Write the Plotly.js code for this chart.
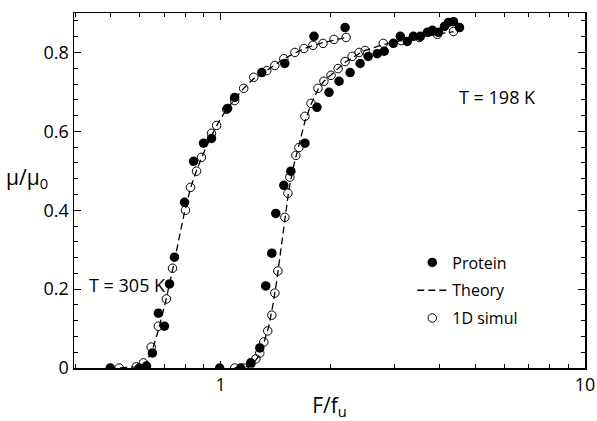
<!DOCTYPE html>
<html>
<head>
<meta charset="utf-8">
<script src="https://cdn.plot.ly/plotly-3.0.1.min.js"></script>
<style>html,body{margin:0;padding:0;background:#fff;}#chart{width:597px;height:421px;}</style>
</head>
<body>
<div id="chart"></div>
<script>
// T = 305 K
const protein305X = [0.498,0.598,0.626,0.650,0.675,0.701,0.724,0.747,0.796,0.843,0.898,0.944,1.045,1.093,1.297,1.500,1.804,2.196];
const protein305Y = [0,0,0.005,0.038,0.139,0.106,0.213,0.281,0.420,0.524,0.570,0.582,0.658,0.686,0.749,0.772,0.841,0.863];
const simul305X = [0.527,0.587,0.614,0.645,0.675,0.710,0.738,0.801,0.827,0.859,0.886,0.944,0.975,1.039,1.093,1.157,1.233,1.339,1.409,1.491,1.599,1.693,1.792,1.910,2.048,2.210];
const simul305Y = [0,0.003,0.013,0.053,0.106,0.175,0.253,0.400,0.458,0.499,0.534,0.595,0.615,0.656,0.678,0.709,0.737,0.754,0.767,0.784,0.800,0.810,0.818,0.823,0.833,0.838];
const theory305X = [0.530,0.587,0.621,0.650,0.675,0.705,0.738,0.766,0.796,0.827,0.859,0.892,0.939,0.987,1.039,1.093,1.157,1.233,1.339,1.491,1.693,1.910,2.210];
const theory305Y = [0,0.003,0.010,0.046,0.096,0.165,0.248,0.324,0.395,0.456,0.501,0.539,0.585,0.623,0.656,0.681,0.709,0.734,0.754,0.784,0.810,0.825,0.838];
// T = 198 K
const protein198X = [0.994,1.135,1.210,1.281,1.330,1.382,1.417,1.491,1.559,1.704,1.838,1.984,2.114,2.267,2.415,2.541,2.691,2.812,2.978,3.113,3.253,3.381,3.534,3.694,3.813,3.961,4.115,4.220,4.356,4.525];
const protein198Y = [0,0,0.013,0.051,0.208,0.291,0.392,0.463,0.499,0.570,0.661,0.699,0.727,0.749,0.772,0.790,0.797,0.803,0.823,0.841,0.828,0.841,0.841,0.851,0.856,0.851,0.866,0.876,0.878,0.863];
const simul198X = [1.093,1.157,1.210,1.249,1.281,1.314,1.347,1.382,1.409,1.436,1.501,1.530,1.549,1.609,1.640,1.704,1.770,1.850,1.921,2.009,2.101,2.196,2.296,2.400,2.493,2.795,3.133,3.512,3.936,4.356];
const simul198Y = [0,0,0.010,0.023,0.038,0.066,0.094,0.134,0.190,0.246,0.382,0.443,0.484,0.539,0.559,0.638,0.671,0.709,0.727,0.742,0.759,0.777,0.790,0.800,0.805,0.823,0.830,0.838,0.846,0.853];
const theory198X = [1.093,1.172,1.225,1.273,1.314,1.356,1.391,1.427,1.463,1.501,1.539,1.589,1.640,1.704,1.770,1.850,1.921,2.009,2.101,2.196,2.296,2.400,2.493,2.795,3.133,3.512,3.936,4.356];
const theory198Y = [0,0.003,0.010,0.030,0.063,0.106,0.159,0.223,0.299,0.375,0.451,0.515,0.562,0.625,0.668,0.706,0.727,0.742,0.759,0.775,0.787,0.797,0.805,0.820,0.830,0.838,0.846,0.853];

const xTickVals = [1, 10];
const xTickText = ['1', '10'];
const xMinorVals = [0.4,0.5,0.6,0.7,0.8,0.9,2,3,4,5,6,7,8,9];
const yTickVals = [0, 0.2, 0.4, 0.6, 0.8];
const yTickText = ['0', '0.2', '0.4', '0.6', '0.8'];

const FONT = 'Open Sans, Noto Sans, sans-serif';
const theoryLine = {color:'#000', width:1.3, dash:'7px,4px'};
const filledMarker = {symbol:'circle', size:9.5, color:'#000'};
const openMarker = {symbol:'circle-open', size:8.5, color:'#000', line:{width:1}};

const traces = [
  {x:theory305X, y:theory305Y, mode:'lines', line:theoryLine, name:'Theory', legendgroup:'t', legendrank:2, showlegend:true},
  {x:theory198X, y:theory198Y, mode:'lines', line:theoryLine, name:'Theory', legendgroup:'t', showlegend:false},
  {x:simul305X, y:simul305Y, mode:'markers', marker:openMarker, name:'1D simul', legendgroup:'s', legendrank:3, showlegend:true},
  {x:simul198X, y:simul198Y, mode:'markers', marker:openMarker, name:'1D simul', legendgroup:'s', showlegend:false},
  {x:protein305X, y:protein305Y, mode:'markers', marker:filledMarker, name:'Protein', legendgroup:'p', legendrank:1, showlegend:true},
  {x:protein198X, y:protein198Y, mode:'markers', marker:filledMarker, name:'Protein', legendgroup:'p', showlegend:false}
];

const layout = {
  width:597, height:421,
  margin:{l:74, r:12, t:13, b:53},
  paper_bgcolor:'#fff', plot_bgcolor:'#fff',
  font:{family:FONT, color:'#000', size:17},
  showlegend:true,
  legend:{x:0.662, y:0.345, xanchor:'left', yanchor:'top', bgcolor:'rgba(0,0,0,0)',
          font:{family:FONT, size:16, color:'#000'}, traceorder:'grouped', tracegroupgap:4, itemwidth:30},
  xaxis:{type:'log', range:[Math.log10(0.396), 1], tickmode:'array', tickvals:xTickVals, ticktext:xTickText,
         ticks:'inside', ticklen:7, tickwidth:1, tickcolor:'#000', showline:true, linecolor:'#000', linewidth:1.5,
         mirror:'allticks', showgrid:false, zeroline:false, tickfont:{size:18},
         minor:{tickmode:'array', tickvals:xMinorVals, ticks:'inside', ticklen:4, tickcolor:'#000', showgrid:false},
         title:{text:'F/f<sub>u</sub>', font:{size:21}, standoff:6}},
  yaxis:{range:[0, 0.9], tickmode:'array', tickvals:yTickVals, ticktext:yTickText,
         ticks:'inside', ticklen:7, tickwidth:1, tickcolor:'#000', showline:true, linecolor:'#000', linewidth:1.5,
         mirror:'allticks', showgrid:false, zeroline:false, tickfont:{size:18},
         minor:{dtick:0.04, tick0:0, ticks:'inside', ticklen:4, tickcolor:'#000', showgrid:false}},
  annotations:[
    {text:'μ/μ<sub>0</sub>', xref:'paper', yref:'paper', x:-0.092, y:0.535, xanchor:'center', yanchor:'middle', showarrow:false, font:{size:21}},
    {text:'T = 198 K', xref:'paper', yref:'paper', x:0.828, y:0.764, xanchor:'center', yanchor:'middle', showarrow:false, font:{size:18}},
    {text:'T = 305 K', xref:'paper', yref:'paper', x:0.105, y:0.234, xanchor:'center', yanchor:'middle', showarrow:false, font:{size:18}}
  ]
};

Plotly.newPlot('chart', traces, layout, {displayModeBar:false, staticPlot:true});
</script>
</body>
</html>
